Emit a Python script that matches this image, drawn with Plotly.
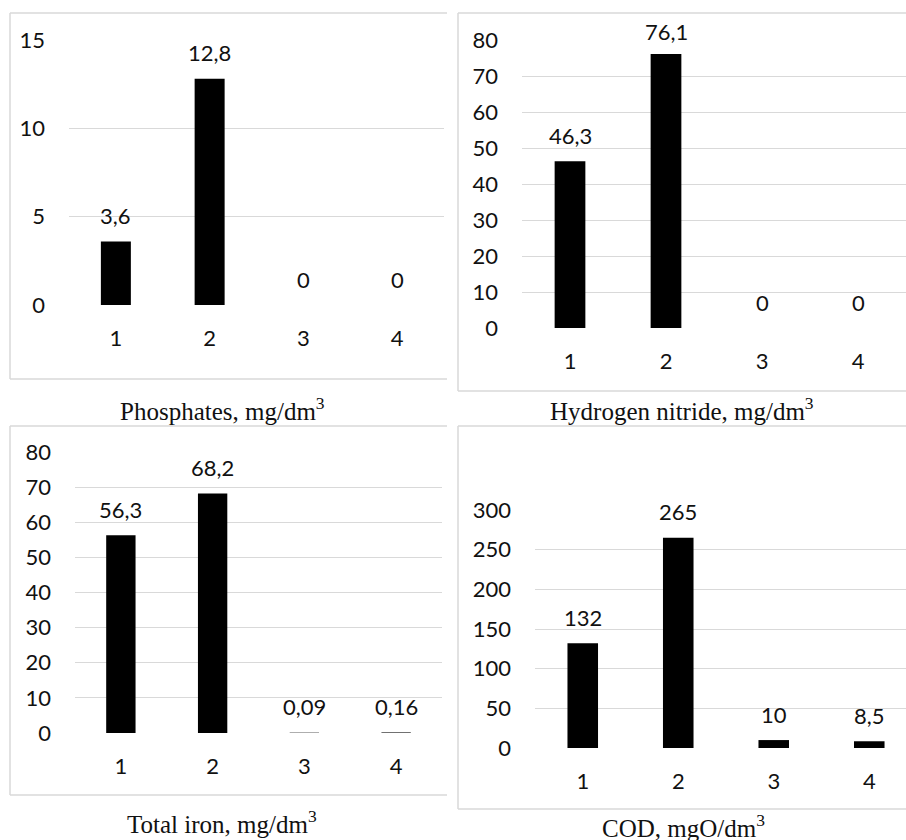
import plotly.graph_objects as go

W, H = 906, 840

categories = [1, 2, 3, 4]
cat_labels = ["1", "2", "3", "4"]

phosphates = [3.6, 12.8, 0, 0]
hydrogen_nitride = [46.3, 76.1, 0, 0]
total_iron = [56.3, 68.2, 0.09, 0.16]
cod = [132, 265, 10, 8.5]

titles = [
    "Phosphates, mg/dm<sup>3</sup>",
    "Hydrogen nitride, mg/dm<sup>3</sup>",
    "Total iron, mg/dm<sup>3</sup>",
    "COD, mgO/dm<sup>3</sup>",
]

y_ticks_1 = [0, 5, 10, 15]
y_ticks_2 = [0, 10, 20, 30, 40, 50, 60, 70, 80]
y_ticks_3 = [0, 10, 20, 30, 40, 50, 60, 70, 80]
y_ticks_4 = [0, 50, 100, 150, 200, 250, 300]


def fmt(v):
    if float(v).is_integer():
        return str(int(v))
    return str(v).replace(".", ",")


# panel layout in pixels: plot area (x0, x1, ytop, ybottom), x range, box, caption
panels = [
    dict(vals=phosphates, ticks=y_ticks_1, px=(69, 444, 40, 305), xr=(0.5, 4.5),
         box=(10, 447, 13, 379), cap=(222, 409)),
    dict(vals=hydrogen_nitride, ticks=y_ticks_2, px=(522, 906, 40, 328), xr=(0.5, 4.5),
         box=(458, 906, 13, 391), cap=(682, 409)),
    dict(vals=total_iron, ticks=y_ticks_3, px=(75, 442, 452, 733), xr=(0.5, 4.5),
         box=(10, 447, 426, 795), cap=(222, 822)),
    dict(vals=cod, ticks=y_ticks_4, px=(535, 906, 510, 748), xr=(0.5, 0.5 + (906 - 535) / 95.5),
         box=(458, 906, 426, 809), cap=(683, 826)),
]

fig = go.Figure()
tick_font = dict(family="Lato, Carlito, sans-serif", size=22, color="#111111")
grid_col = "#d9d9d9"

for i, p in enumerate(panels, start=1):
    xa = "x" if i == 1 else f"x{i}"
    ya = "y" if i == 1 else f"y{i}"
    x0, x1, yt, yb = p["px"]
    fig.add_trace(go.Bar(
        x=categories, y=p["vals"], xaxis=xa, yaxis=ya,
        width=0.32, marker=dict(color="#000000", line=dict(width=0)),
        showlegend=False, hoverinfo="skip",
    ))
    ymax = p["ticks"][-1]
    fig.layout[f"xaxis{'' if i == 1 else i}"] = dict(
        domain=[x0 / W, x1 / W], anchor=ya, range=list(p["xr"]),
        tickvals=categories, ticktext=cat_labels, showgrid=False, zeroline=False,
        showline=False, ticks="", tickfont=tick_font, ticklabelstandoff=18,
        fixedrange=True, automargin=False,
    )
    fig.layout[f"yaxis{'' if i == 1 else i}"] = dict(
        domain=[1 - yb / H, 1 - yt / H], anchor=xa, range=[0, ymax],
        tickvals=p["ticks"], showgrid=True, gridcolor=grid_col, gridwidth=1,
        zeroline=False, showline=False, ticks="", tickfont=tick_font,
        ticklabelstandoff=23, fixedrange=True, automargin=False,
    )
    # data labels
    scale = (yb - yt) / ymax
    for c, v in zip(categories, p["vals"]):
        bar_top_px = yb - v * scale
        center = max(bar_top_px - 26, yt - 9)
        shift = bar_top_px - center
        fig.add_annotation(
            x=c, y=v, xref=xa, yref=ya, text=fmt(v), showarrow=False,
            yanchor="middle", yshift=shift, font=tick_font,
        )
    # chart border (right side cropped)
    bx0, bx1, by0, by1 = p["box"]
    for (ax0, ay0, ax1, ay1) in [(bx0, by0, bx1, by0), (bx0, by1, bx1, by1), (bx0, by0, bx0, by1)]:
        fig.add_shape(type="line", xref="paper", yref="paper",
                      x0=ax0 / W, x1=ax1 / W, y0=1 - ay0 / H, y1=1 - ay1 / H,
                      line=dict(color=grid_col, width=1.5))
    # caption
    cx, cy = p["cap"]
    fig.add_annotation(
        x=cx / W, y=1 - cy / H, xref="paper", yref="paper", text=titles[i - 1],
        showarrow=False, xanchor="center", yanchor="middle",
        font=dict(family="Liberation Serif, Times New Roman, serif", size=25, color="#111111"),
    )

fig.update_layout(
    width=W, height=H, margin=dict(l=0, r=0, t=0, b=0, autoexpand=False),
    paper_bgcolor="white", plot_bgcolor="white", bargap=0.68,
)

fig.write_html(
    "out.html",
    config={"displayModeBar": False, "staticPlot": True},
    post_script="document.body.style.margin='0';document.body.style.overflow='hidden';",
)
